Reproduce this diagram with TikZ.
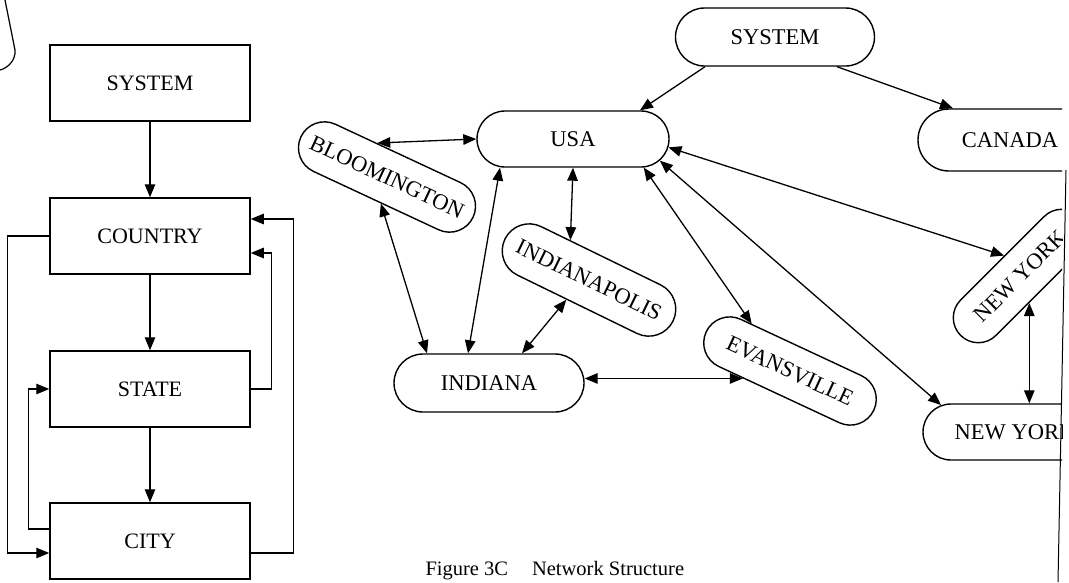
\documentclass[tikz,border=0pt]{standalone}
\usepackage{fontspec}
\setmainfont{Liberation Serif}
\usetikzlibrary{arrows.meta, shapes.misc}

\begin{document}
\begin{tikzpicture}[x=1pt,y=-1pt,
    lbox/.style={draw,line width=1.5pt,minimum width=200pt,minimum height=76pt,inner sep=0pt,font=\fontsize{22}{26}\selectfont},
    rnode/.style={draw,rounded rectangle,line width=1.4pt,inner sep=0pt,font=\fontsize{22.5}{26}\selectfont},
    onearr/.style={line width=1.3pt,-{Triangle[length=13pt,width=10.5pt]}},
    twoarr/.style={line width=1.3pt,{Triangle[length=13pt,width=10.5pt]}-{Triangle[length=13pt,width=10.5pt]}}]
    \useasboundingbox (0,0) rectangle (1069,582);
    \begin{scope}
        \clip (0,0) rectangle (1062,582);
        % hierarchy on the left
        \node[lbox] (sysl) at (150,83) {SYSTEM};
        \node[lbox] (country) at (150,236) {COUNTRY};
        \node[lbox] (state) at (150,389) {STATE};
        \node[lbox] (city) at (150,541) {CITY};
        \draw[onearr] (sysl) -- (country);
        \draw[onearr] (country) -- (state);
        \draw[onearr] (state) -- (city);
        \draw[onearr] (country.west) -- ++(-42,0) |- ([yshift=-12pt]city.west);
        \draw[onearr] ([yshift=12pt]city.west) -- ++(-21,0) |- (state.west);
        \draw[onearr] (state.east) -- ++(21,0) |- ([yshift=-17pt]country.east);
        \draw[onearr] ([yshift=-12pt]city.east) -- ++(43,0) |- ([yshift=17pt]country.east);
        % network on the right
        \node[rnode,minimum width=199pt,minimum height=58pt] (sysr) at (775,37) {SYSTEM};
        \node[rnode,minimum width=192pt,minimum height=56pt] (usa) at (573,139) {USA};
        \node[rnode,minimum width=184pt,minimum height=62pt] (canada) at (1010,140) {CANADA};
        \node[rnode,minimum width=190pt,minimum height=52pt,rotate=-25] (bloom) at (387,177) {BLOOMINGTON};
        \node[rnode,minimum width=187pt,minimum height=54pt,rotate=-26] (indpl) at (589,280) {INDIANAPOLIS};
        \node[rnode,minimum width=190pt,minimum height=58pt] (indiana) at (489,383) {INDIANA};
        \node[rnode,minimum width=185pt,minimum height=52pt,rotate=-25] (evans) at (790,371) {EVANSVILLE};
        \node[rnode,minimum width=168pt,minimum height=50pt,rotate=45] (nyr) at (1020,276) {NEW YORK};
        \node[rnode,minimum width=184pt,minimum height=56pt] (nyb) at (1015,432) {NEW YORK};
        \draw[onearr] ([xshift=-70pt]sysr.south) -- ([xshift=67pt]usa.north);
        \draw[onearr] ([xshift=62pt]sysr.south) -- ([xshift=-57pt]canada.north);
        \draw[twoarr] (bloom.131) -- (usa.west);
        \draw[twoarr] (usa.south) -- (indpl.141);
        \draw[twoarr] (bloom.282) -- ([xshift=-62pt]indiana.north);
        \draw[twoarr] ([xshift=-73pt]usa.south) -- ([xshift=-21pt]indiana.north);
        \draw[twoarr] (indpl.247) -- ([xshift=33pt]indiana.north);
        \draw[twoarr] (evans.214 -| indiana.east) -- (evans.214);
        \draw[twoarr] (usa.338) -- (evans.154);
        \draw[twoarr] (usa.346) -- (nyb.160);
        \draw[twoarr] (usa.355) -- (nyr.83);
        \draw[twoarr] (nyr.244) -- (nyr.244 |- nyb.north);
    \end{scope}
    \node[anchor=base west,font=\fontsize{20.5}{24}\selectfont] (caption) at (422,575) {Figure 3C\hspace{24pt}Network Structure};
    % page edges of the scan
    \draw[line width=1.2pt] (5,0) -- (15,50) .. controls (16,60) and (8,68) .. (0,70);
    \draw[line width=1pt] (1066,170) -- (1058,582);
\end{tikzpicture}
\end{document}
